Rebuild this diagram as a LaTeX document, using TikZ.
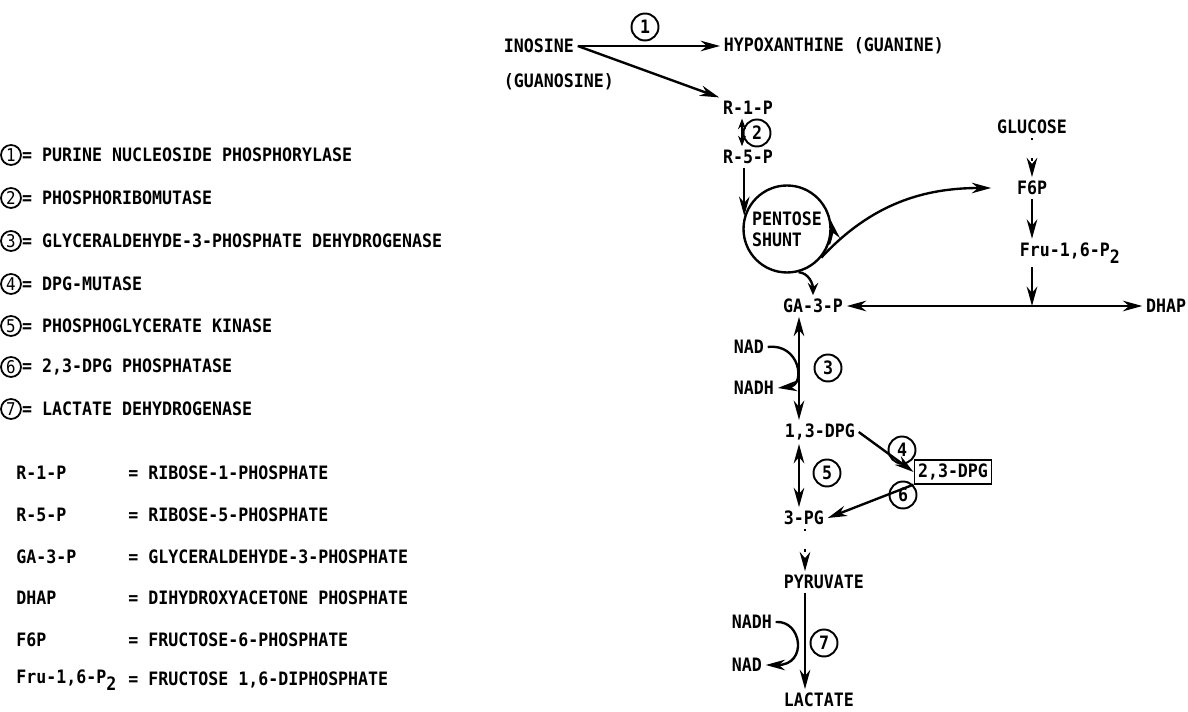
\documentclass[tikz,border=0pt]{standalone}
\usepackage{fontspec}
\setmainfont{DejaVu Sans Mono}[FakeStretch=0.9]
\usepackage{tikz}
\usetikzlibrary{arrows.meta, positioning}

\newcommand{\diagfont}{\fontsize{10.5pt}{12pt}\selectfont\bfseries}

\begin{document}
\begin{tikzpicture}[x=0.02cm, y=0.02cm,
    every node/.style={font=\diagfont},
    met/.style={inner sep=2pt},
    enzyme/.style={circle, draw, line width=1.1pt, minimum size=0.54cm, inner sep=0pt},
    keynum/.style={circle, draw, line width=1pt, minimum size=0.4cm, inner sep=0pt,
                   font=\fontsize{10pt}{11pt}\selectfont},
    legend/.style={anchor=west, inner sep=0pt},
    rxn/.style={-{Stealth[length=11pt, width=6pt, inset=3.5pt]}, line width=1.35pt},
    rev/.style={{Stealth[length=11pt, width=6pt, inset=3.5pt]}-{Stealth[length=11pt, width=6pt, inset=3.5pt]}, line width=1.35pt},
    multi/.style={dash pattern=on 1.5pt off 10pt}]
    \useasboundingbox (0,0) rectangle (1188,-712);

    % Legend - enzymes
    \node[keynum] (k1) at (11,-155) {1};
    \node[legend] (t1) at (k1.east) {= PURINE NUCLEOSIDE PHOSPHORYLASE};
    \node[keynum] (k2) at (11,-198) {2};
    \node[legend] (t2) at (k2.east) {= PHOSPHORIBOMUTASE};
    \node[keynum] (k3) at (11,-241) {3};
    \node[legend] (t3) at (k3.east) {= GLYCERALDEHYDE-3-PHOSPHATE DEHYDROGENASE};
    \node[keynum] (k4) at (11,-284) {4};
    \node[legend] (t4) at (k4.east) {= DPG-MUTASE};
    \node[keynum] (k5) at (11,-326) {5};
    \node[legend] (t5) at (k5.east) {= PHOSPHOGLYCERATE KINASE};
    \node[keynum] (k6) at (11,-367) {6};
    \node[legend] (t6) at (k6.east) {= 2,3-DPG PHOSPHATASE};
    \node[keynum] (k7) at (11,-409) {7};
    \node[legend] (t7) at (k7.east) {= LACTATE DEHYDROGENASE};

    % Legend - abbreviations
    \node[legend] (a1) at (16,-473) {R-1-P};
    \node[legend] (b1) at (128,-473) {= RIBOSE-1-PHOSPHATE};
    \node[legend] (a2) at (16,-515) {R-5-P};
    \node[legend] (b2) at (128,-515) {= RIBOSE-5-PHOSPHATE};
    \node[legend] (a3) at (16,-557) {GA-3-P};
    \node[legend] (b3) at (128,-557) {= GLYCERALDEHYDE-3-PHOSPHATE};
    \node[legend] (a4) at (16,-598) {DHAP};
    \node[legend] (b4) at (128,-598) {= DIHYDROXYACETONE PHOSPHATE};
    \node[legend] (a5) at (16,-640) {F6P};
    \node[legend] (b5) at (128,-640) {= FRUCTOSE-6-PHOSPHATE};
    \node[legend] (a6) at (16,-680) {Fru-1,6-P\raisebox{-0.7ex}{2}};
    \node[legend] (b6) at (128,-680) {= FRUCTOSE 1,6-DIPHOSPHATE};

    % Nodes - pathway
    \node[met, anchor=west] (inosine) at (500,-46) {INOSINE};
    \node[met, anchor=west] (guanosine) at (500,-82) {(GUANOSINE)};
    \node[met, anchor=west] (hypox) at (720,-46) {HYPOXANTHINE (GUANINE)};
    \node[met] (r1p) at (748,-108) {R-1-P};
    \node[met] (r5p) at (748,-157) {R-5-P};
    \node[circle, draw, line width=1.35pt, minimum size=1.74cm, inner sep=0pt,
          align=left] (shunt) at (787,-229) {PENTOSE\\SHUNT};
    \node[met] (glucose) at (1032,-127) {GLUCOSE};
    \node[met] (f6p) at (1032,-188) {F6P};
    \node[met, anchor=west] (fru) at (1016,-253) {Fru-1,6-P\raisebox{-0.7ex}{2}};
    \node[met] (ga3p) at (813,-306) {GA-3-P};
    \node[met, anchor=east] (dhap) at (1190,-306) {DHAP};
    \node[met, anchor=west] (nad1) at (730,-347) {NAD};
    \node[met, anchor=west] (nadh1) at (730,-388) {NADH};
    \node[met, anchor=west] (dpg13) at (781,-432) {1,3-DPG};
    \node[met, draw, line width=1.1pt] (dpg23) at (953,-472) {2,3-DPG};
    \node[met, anchor=west] (pg3) at (780,-518) {3-PG};
    \node[met, anchor=west] (pyr) at (780,-582) {PYRUVATE};
    \node[met, anchor=west] (nadh2) at (728,-622) {NADH};
    \node[met, anchor=west] (nad2) at (728,-665) {NAD};
    \node[met, anchor=west] (lac) at (780,-700) {LACTATE};

    % Enzyme numbers
    \node[enzyme] (e1) at (645,-27) {1};
    \node[enzyme] (e2) at (757,-133) {2};
    \node[enzyme] (e3) at (828,-368) {3};
    \node[enzyme] (e4) at (902,-450) {4};
    \node[enzyme] (e5) at (827,-473) {5};
    \node[enzyme] (e6) at (903,-495) {6};
    \node[enzyme] (e7) at (824,-643) {7};

    \coordinate (axr) at (742,0);
    \coordinate (axis) at (799,0);
    \coordinate (axis2) at (805,0);

    % Arrows
    \draw[rxn] (inosine.east) -- (hypox.west);
    \draw[rxn] (inosine.east) -- (r1p.north west);
    \draw[line width=1.35pt, {Stealth[length=6pt, width=4.5pt, inset=2pt]}-{Stealth[length=6pt, width=4.5pt, inset=2pt]}]
        (r1p.south -| axr) -- (r5p.north -| axr);
    \draw[rxn] (r5p.south -| shunt.163) -- (shunt.163);
    \draw[rxn] (shunt.-20) arc[start angle=-20, end angle=12, radius=0.88cm];
    \draw[rxn, shorten >=0.44cm] (shunt.-40) .. controls (872,-203) and (925,-188) .. (f6p.west);
    \draw[line width=1.35pt, -{Stealth[length=7pt, width=6pt, inset=2.5pt]}]
        (shunt.-75) to[out=-5, in=90] (ga3p.north);
    \draw[rxn, multi] (glucose.south) -- (f6p.north);
    \draw[rxn] (f6p.south) -- (f6p |- fru.north);
    \draw[rxn] (f6p |- fru.south) -- (f6p |- ga3p);
    \draw[rev] (ga3p.east) -- (dhap.west);
    \draw[rev] (ga3p.south -| axis) -- (dpg13.north -| axis);
    \draw[rxn] (nad1.east) .. controls (800,-343) and (806,-385) .. (nadh1.east);
    \draw[rev] (dpg13.south -| axis) -- (pg3.north -| axis);
    \draw[rxn] (dpg13.east) -- (dpg23.west);
    \draw[rxn] (dpg23.south west) -- (pg3.east);
    \draw[rxn, multi] (pg3.south -| axis2) -- (pyr.north -| axis2);
    \draw[rxn] (pyr.south -| axis2) -- (lac.north -| axis2);
    \draw[rxn] (nadh2.east) .. controls (802,-620) and (808,-665) .. (nad2.east);

\end{tikzpicture}
\end{document}
